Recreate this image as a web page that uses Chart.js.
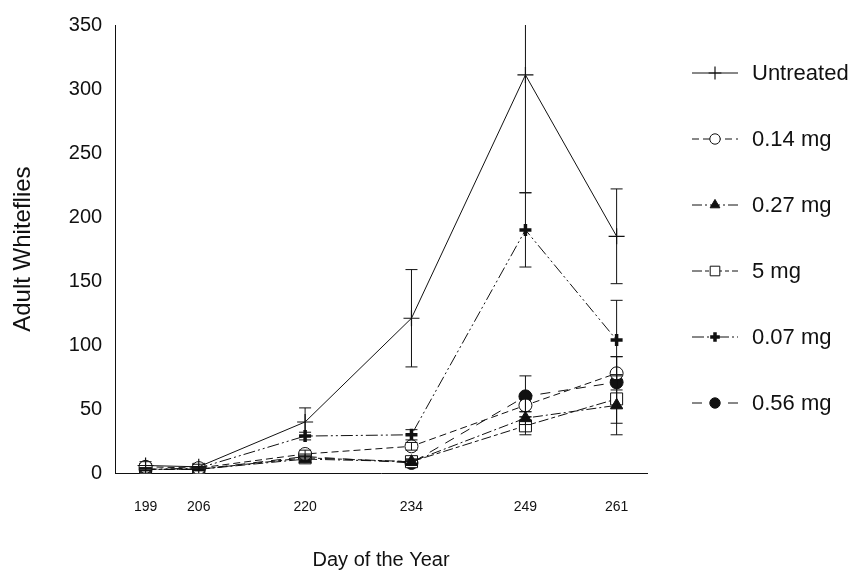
<!DOCTYPE html>
<html>
<head>
<meta charset="utf-8">
<script src="https://cdn.jsdelivr.net/npm/chart.js@4.4.1/dist/chart.umd.min.js"></script>
<style>
  html, body { margin: 0; padding: 0; background: #fff; }
  #wrap { width: 857px; height: 572px; }
</style>
</head>
<body>
<div id="wrap"><canvas id="chart" width="857" height="572"></canvas></div>
<script>
// day of the year for each sampling date
const days = [199, 206, 220, 234, 249, 261];
const yTicks = [0, 50, 100, 150, 200, 250, 300, 350];

// mean adult whiteflies per treatment
const untreated = [6, 5, 40, 121, 311, 185];
const mg014 = [5, 4, 15, 21, 53, 78];
const mg027 = [3, 3, 11, 9, 43, 53];
const mg5 = [3, 3, 12, 9, 37, 58];
const mg007 = [3, 4, 29, 30, 190, 104];
const mg056 = [3, 3, 13, 8, 60, 71];

// standard errors (half length of error bars)
const untreatedErr = [3, 2, 11, 38, 92, 37];
const mg014Err = [1, 1, 3, 3, 5, 13];
const mg027Err = [1, 1, 2, 2, 5, 23];
const mg5Err = [1, 1, 2, 2, 7, 19];
const mg007Err = [1, 1, 3, 4, 29, 31];
const mg056Err = [1, 1, 2, 2, 16, 20];

const FONT = "'Liberation Sans', Arial, Helvetica, sans-serif";
const INK = '#111';

function pts(vals) {
  return vals.map((v, i) => ({ x: days[i], y: v }));
}

function series(label, vals, errs, dash, style, radius, fill, lw) {
  return {
    label: label,
    data: pts(vals),
    errs: errs,
    borderColor: INK,
    borderWidth: 1,
    borderDash: dash,
    pointStyle: style,
    pointRadius: radius,
    pointHoverRadius: radius,
    pointBackgroundColor: fill,
    pointBorderColor: INK,
    pointBorderWidth: lw,
    tension: 0,
    fill: false
  };
}

// error bars drawn through the chart's own scales
const errorBars = {
  id: 'errorBars',
  afterDatasetsDraw(chart) {
    const { ctx, chartArea, scales } = chart;
    ctx.save();
    ctx.beginPath();
    ctx.rect(chartArea.left, chartArea.top, chartArea.right - chartArea.left, chartArea.bottom - chartArea.top);
    ctx.clip();
    ctx.strokeStyle = INK;
    ctx.lineWidth = 1;
    chart.data.datasets.forEach(ds => {
      ds.data.forEach((p, i) => {
        const e = ds.errs[i];
        const x = scales.x.getPixelForValue(p.x);
        const top = scales.y.getPixelForValue(p.y + e);
        const bot = scales.y.getPixelForValue(Math.max(p.y - e, 0));
        ctx.beginPath();
        ctx.moveTo(x, top); ctx.lineTo(x, bot);
        ctx.moveTo(x - 6, top); ctx.lineTo(x + 6, top);
        if (p.y - e > 0) { ctx.moveTo(x - 6, bot); ctx.lineTo(x + 6, bot); }
        ctx.stroke();
      });
    });
    ctx.restore();
  }
};

// legend on the right: line sample with marker, then the label
const sideLegend = {
  id: 'sideLegend',
  afterDraw(chart) {
    const { ctx, chartArea } = chart;
    const x0 = chartArea.right + 45;
    ctx.save();
    chart.data.datasets.forEach((ds, i) => {
      const y = 73 + i * 66;
      ctx.strokeStyle = INK;
      ctx.lineWidth = 1;
      ctx.setLineDash(ds.borderDash);
      ctx.beginPath();
      ctx.moveTo(x0, y); ctx.lineTo(x0 + 46, y);
      ctx.stroke();
      ctx.setLineDash([]);
      ctx.fillStyle = ds.pointBackgroundColor;
      ctx.lineWidth = ds.pointBorderWidth;
      Chart.helpers.drawPoint(ctx, {
        pointStyle: ds.pointStyle,
        radius: ds.pointRadius * 0.8,
        rotation: 0,
        borderWidth: ds.pointBorderWidth
      }, x0 + 23, y);
      ctx.fillStyle = INK;
      ctx.font = '22px ' + FONT;
      ctx.textBaseline = 'middle';
      ctx.fillText(ds.label, x0 + 60, y + 1);
    });
    ctx.restore();
  }
};

const ctx = document.getElementById('chart').getContext('2d');

new Chart(ctx, {
  type: 'line',
  data: {
    datasets: [
      series('Untreated', untreated, untreatedErr, [], 'cross', 8, INK, 1.2),
      series('0.14 mg', mg014, mg014Err, [7, 4], 'circle', 6.5, '#fff', 1),
      series('0.27 mg', mg027, mg027Err, [10, 3, 2, 3], 'triangle', 7, INK, 1),
      series('5 mg', mg5, mg5Err, [10, 3, 4, 3], 'rect', 8.5, '#fff', 1),
      series('0.07 mg', mg007, mg007Err, [12, 3, 2, 3, 2, 3], 'cross', 6, INK, 3.5),
      series('0.56 mg', mg056, mg056Err, [10, 8], 'circle', 6.5, INK, 1)
    ]
  },
  options: {
    responsive: false,
    animation: false,
    events: [],
    layout: { padding: { top: 22, right: 210, left: 0, bottom: 0 } },
    plugins: {
      legend: { display: false },
      tooltip: { enabled: false }
    },
    scales: {
      x: {
        type: 'linear',
        min: 195,
        max: 265,
        afterBuildTicks: axis => { axis.ticks = days.map(v => ({ value: v })); },
        grid: { display: false, drawTicks: false },
        border: { display: true, color: INK, width: 1 },
        ticks: {
          color: INK,
          padding: 26,
          autoSkip: false,
          maxRotation: 0,
          font: { family: FONT, size: 14 }
        },
        title: {
          display: true,
          text: 'Day of the Year',
          color: INK,
          font: { family: FONT, size: 20 },
          padding: { top: 6, bottom: 0 }
        }
      },
      y: {
        min: 0,
        max: 350,
        afterBuildTicks: axis => { axis.ticks = yTicks.map(v => ({ value: v })); },
        grid: { display: false, drawTicks: false },
        border: { display: true, color: INK, width: 1 },
        ticks: {
          color: INK,
          padding: 13,
          font: { family: FONT, size: 20 }
        },
        title: {
          display: true,
          text: 'Adult Whiteflies',
          color: INK,
          font: { family: FONT, size: 24 },
          padding: { top: 9, bottom: 18 }
        }
      }
    }
  },
  plugins: [errorBars, sideLegend]
});
</script>
</body>
</html>
